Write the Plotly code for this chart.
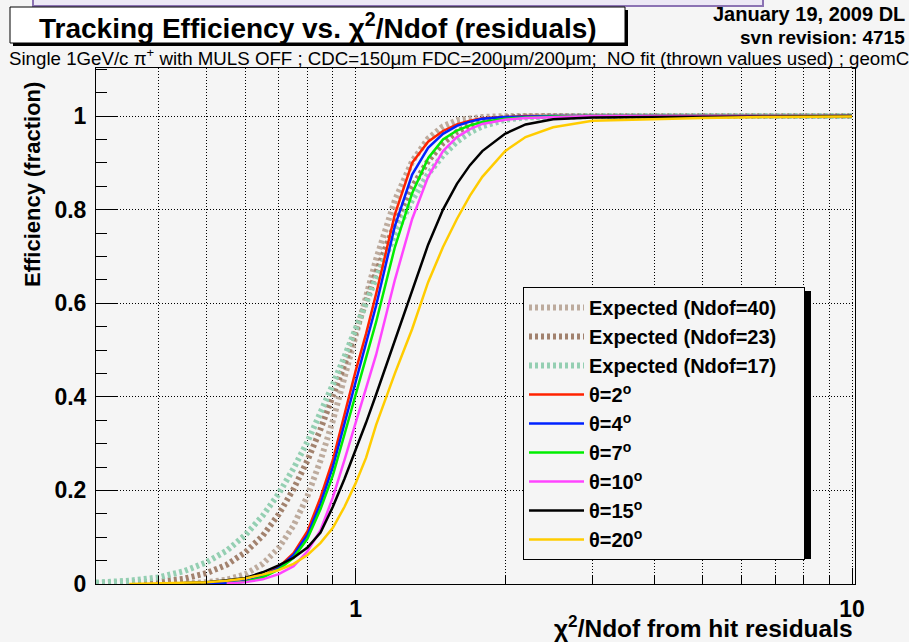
import math
import plotly.graph_objects as go

# ---------------- data ----------------
chi2_ndof = [0.30, 0.35, 0.40, 0.45, 0.50, 0.55, 0.60, 0.65, 0.70, 0.75, 0.80, 0.85,
             0.90, 0.95, 1.00, 1.05, 1.10, 1.20, 1.30, 1.40, 1.50, 1.60, 1.70, 1.80,
             2.00, 2.20, 2.50, 3.00, 4.00, 5.00, 7.00, 10.0]

exp_ndof40 = [0.000, 0.000, 0.000, 0.001, 0.004, 0.009, 0.021, 0.043, 0.077, 0.125, 0.188, 0.264,
              0.349, 0.439, 0.530, 0.616, 0.694, 0.820, 0.903, 0.952, 0.978, 0.991, 0.996, 0.998,
              1.000, 1.000, 1.000, 1.000, 1.000, 1.000, 1.000, 1.000]
exp_ndof23 = [0.001, 0.002, 0.005, 0.011, 0.023, 0.041, 0.068, 0.103, 0.149, 0.203, 0.264, 0.331,
              0.400, 0.470, 0.539, 0.605, 0.665, 0.769, 0.848, 0.904, 0.942, 0.966, 0.981, 0.989,
              0.997, 0.999, 1.000, 1.000, 1.000, 1.000, 1.000, 1.000]
exp_ndof17 = [0.003, 0.007, 0.014, 0.027, 0.046, 0.071, 0.105, 0.146, 0.193, 0.247, 0.304, 0.364,
              0.426, 0.486, 0.546, 0.602, 0.654, 0.746, 0.820, 0.876, 0.916, 0.945, 0.965, 0.978,
              0.992, 0.997, 0.999, 1.000, 1.000, 1.000, 1.000, 1.000]

theta2 = [None, None, None, None, 0.000, 0.002, 0.006, 0.017, 0.036, 0.066, 0.113, 0.185,
          0.265, 0.365, 0.455, 0.535, 0.620, 0.790, 0.900, 0.945, 0.968, 0.982, 0.990, 0.995,
          0.998, 1.000, 1.000, 1.000, 1.000, 1.000, 1.000, 1.000]
theta4 = [None, None, None, None, 0.000, 0.002, 0.006, 0.016, 0.034, 0.062, 0.105, 0.172,
          0.250, 0.345, 0.430, 0.515, 0.595, 0.765, 0.875, 0.932, 0.962, 0.979, 0.988, 0.994,
          0.998, 0.999, 1.000, 1.000, 1.000, 1.000, 1.000, 1.000]
theta7 = [None, None, None, None, None, 0.001, 0.005, 0.014, 0.031, 0.056, 0.097, 0.160,
          0.232, 0.320, 0.405, 0.480, 0.560, 0.720, 0.835, 0.910, 0.950, 0.969, 0.980, 0.987,
          0.994, 0.997, 0.999, 1.000, 1.000, 1.000, 1.000, 1.000]
theta10 = [None, None, None, None, None, 0.001, 0.004, 0.010, 0.021, 0.038, 0.070, 0.115,
           0.185, 0.265, 0.345, 0.420, 0.490, 0.650, 0.780, 0.870, 0.925, 0.955, 0.972, 0.983,
           0.992, 0.996, 0.998, 1.000, 1.000, 1.000, 1.000, 1.000]
theta15 = [None, None, None, 0.002, 0.004, 0.008, 0.013, 0.025, 0.040, 0.056, 0.078, 0.110,
           0.165, 0.225, 0.285, 0.345, 0.405, 0.520, 0.630, 0.725, 0.800, 0.855, 0.895, 0.925,
           0.962, 0.982, 0.993, 0.997, 0.998, 0.998, 0.999, 1.000]
theta20 = [None, 0.000, 0.001, 0.002, 0.004, 0.007, 0.012, 0.020, 0.030, 0.043, 0.062, 0.088,
           0.120, 0.165, 0.215, 0.270, 0.340, 0.450, 0.545, 0.645, 0.720, 0.780, 0.830, 0.870,
           0.925, 0.955, 0.976, 0.990, 0.994, 0.996, 0.998, 0.999]

series_names = ["Expected (Ndof=40)", "Expected (Ndof=23)", "Expected (Ndof=17)",
                "θ=2<sup>o</sup>", "θ=4<sup>o</sup>", "θ=7<sup>o</sup>",
                "θ=10<sup>o</sup>", "θ=15<sup>o</sup>", "θ=20<sup>o</sup>"]
series_values = [exp_ndof40, exp_ndof23, exp_ndof17,
                 theta2, theta4, theta7, theta10, theta15, theta20]

x_major_ticks = [1, 10]
x_tick_labels = ["1", "10"]
x_minor_ticks = [0.4, 0.5, 0.6, 0.7, 0.8, 0.9, 2, 3, 4, 5, 6, 7, 8, 9]

# ---------------- styles ----------------
colors = ["#bdab9d", "#a2826e", "#94cfb2",
          "#ff2200", "#0022ff", "#00ee00", "#ff44ff", "#000000", "#ffcc00"]
FONT = "Liberation Sans, Arial, Helvetica, sans-serif"
BG = "#f5f5f5"
PAD = "\u00a0" * 4  # widen the legend box like the reference

fig = go.Figure()
for i, (name, vals) in enumerate(zip(series_names, series_values)):
    expected = i < 3
    fig.add_trace(go.Scatter(
        x=chi2_ndof, y=vals, name=name + (PAD if expected else ""), mode="lines",
        connectgaps=False,
        line=dict(color=colors[i], width=6 if expected else 2.5,
                  dash="3px,3px" if expected else "solid"),
        legendgroup=f"g{i}",
    ))

# plot area geometry (px) used to place decorations in paper coords
L, R, T, B = 96, 54, 68, 58
W, H = 909, 642
PW, PH = W - L - R, H - T - B


def px(xp):
    return (xp - L) / PW


def py(yp):
    return (H - B - yp) / PH


grid_dash = "1px,2px"
fig.update_layout(
    width=W, height=H,
    margin=dict(l=L, r=R, t=T, b=B, pad=0),
    paper_bgcolor=BG, plot_bgcolor=BG,
    font=dict(family=FONT, color="black"),
    showlegend=True,
    legend=dict(x=px(523), y=py(287), xanchor="left", yanchor="top",
                bgcolor=BG, bordercolor="black", borderwidth=1,
                font=dict(family=FONT, size=20, weight="bold", color="black"),
                itemwidth=55, tracegroupgap=0),
    xaxis=dict(type="log", range=[math.log10(0.3), 1.006],
               tickmode="array", tickvals=x_major_ticks, ticktext=x_tick_labels,
               ticks="inside", ticklen=16, tickwidth=1, tickcolor="black",
               showline=True, linecolor="black", linewidth=1, mirror=True,
               showgrid=True, gridcolor="black", gridwidth=1, griddash=grid_dash,
               zeroline=False,
               tickfont=dict(family=FONT, size=23, weight="bold"),
               ticklabelstandoff=4,
               minor=dict(tickmode="array", tickvals=x_minor_ticks, ticks="inside",
                          ticklen=8, tickcolor="black", tickwidth=1,
                          showgrid=True, gridcolor="black", gridwidth=1,
                          griddash=grid_dash)),
    yaxis=dict(range=[0, 1.1026], tick0=0, dtick=0.2,
               ticks="inside", ticklen=21, tickwidth=1, tickcolor="black",
               showline=True, linecolor="black", linewidth=1, mirror=True,
               showgrid=True, gridcolor="black", gridwidth=1, griddash=grid_dash,
               zeroline=False,
               tickfont=dict(family=FONT, size=23, weight="bold"),
               ticklabelstandoff=4,
               minor=dict(tick0=0, dtick=0.05, ticks="inside", ticklen=11,
                          tickcolor="black", tickwidth=1, showgrid=False)),
)

shapes = [
    # partial slide frame at the very top
    dict(type="rect", xref="paper", yref="paper", x0=px(33), x1=px(763),
         y0=py(6), y1=py(-6), fillcolor="#ece8f5", line=dict(color="#8b72b3", width=2),
         layer="above"),
    # title box shadow + box
    dict(type="rect", xref="paper", yref="paper", x0=px(13), x1=px(628),
         y0=py(46), y1=py(10), fillcolor="black", line=dict(width=0), layer="above"),
    dict(type="rect", xref="paper", yref="paper", x0=px(10), x1=px(625),
         y0=py(43), y1=py(7), fillcolor="white", line=dict(color="black", width=1),
         layer="above"),
    # legend shadow
    dict(type="rect", xref="paper", yref="paper", x0=px(527), x1=px(811),
         y0=py(559), y1=py(291), fillcolor="black", line=dict(width=0), layer="above"),
]
fig.update_layout(shapes=shapes)

ann = [
    dict(text="Tracking Efficiency vs. χ<sup>2</sup>/Ndof (residuals)",
         x=px(318), y=py(26), xanchor="center", yanchor="middle",
         font=dict(family=FONT, size=28, weight="bold")),
    dict(text="January 19, 2009 DL", x=px(907), y=py(14), xanchor="right", yanchor="middle",
         font=dict(family=FONT, size=20, weight="bold")),
    dict(text="svn revision: 4715", x=px(907), y=py(38), xanchor="right", yanchor="middle",
         font=dict(family=FONT, size=19, weight="bold")),
    dict(text="Single 1GeV/c π<sup>+</sup> with MULS OFF ; CDC=150μm FDC=200μm/200μm;  NO fit (thrown values used) ; geomC",
         x=px(7), y=py(57), xanchor="left", yanchor="middle",
         font=dict(family=FONT, size=18.7)),
    dict(text="χ<sup>2</sup>/Ndof from hit residuals", x=1.0, y=py(626),
         xanchor="right", yanchor="middle",
         font=dict(family=FONT, size=24.5, weight="bold")),
    dict(text="Efficiency (fraction)", x=px(33), y=py(185), textangle=-90,
         xanchor="center", yanchor="middle",
         font=dict(family=FONT, size=22, weight="bold")),
]
for a in ann:
    a.update(xref="paper", yref="paper", showarrow=False)
fig.update_layout(annotations=ann)

fig.write_html("out.html")
